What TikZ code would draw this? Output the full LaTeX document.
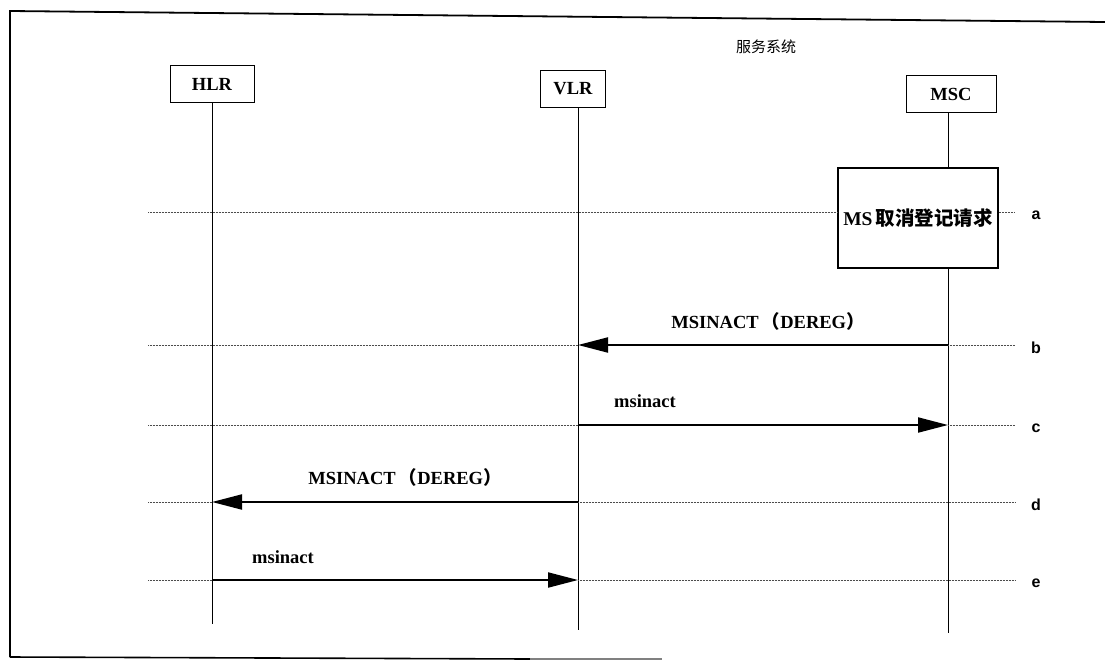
\documentclass[tikz,border=0pt]{standalone}
\usepackage{fontspec}
\setmainfont{Liberation Serif}
\newfontfamily\cjk{Noto Sans CJK SC}
\newfontfamily\lab{Liberation Sans}
\usetikzlibrary{arrows.meta}
\begin{document}
\begin{tikzpicture}[x=1pt,y=-1pt,
  ent/.style={draw,line width=1pt,minimum width=84pt,minimum height=37pt,inner sep=0pt,font=\fontsize{18.5}{18.5}\selectfont\bfseries},
  life/.style={line width=0.9pt},
  dots/.style={line width=0.6pt,dash pattern=on 1pt off 0.5pt,gray!60!black},
  msg/.style={line width=2pt,-{Triangle[length=30pt,width=15pt]}},
  msgtxt/.style={font=\fontsize{18.5}{18.5}\selectfont\bfseries,inner sep=0pt},
  rowlab/.style={font=\lab\fontsize{16}{16}\selectfont\bfseries,inner sep=0pt}]
\useasboundingbox (0,0) rectangle (1105,664);
% frame
\draw[line width=1.8pt] (1105,22) -- (10,11) -- (10,657);
\draw[line width=1.6pt] (10,657) -- (530,659);
\draw[line width=1.6pt,gray] (530,659) -- (662,659);
% title
\node[font=\cjk\fontsize{15}{15}\selectfont] (title) at (766,47) {服务系统};
% entities
\node[ent] (hlr) at (212,84) {HLR};
\node[ent,minimum width=65pt] (vlr) at (573,89) {VLR};
\node[ent,minimum width=90pt] (msc) at (951,94) {MSC};
\coordinate (hlrend) at (212,624);
\coordinate (vlrend) at (578,630);
\coordinate (mscend) at (948,633);
\draw[life] (hlr.south) -- (hlrend);
\draw[life] (vlr.south -| vlrend) -- (vlrend);
\node[draw,line width=1.6pt,minimum width=160pt,minimum height=100pt,inner sep=0pt,font=\fontsize{19.5}{19.5}\selectfont\bfseries] (req) at (918,218) {MS\,\cjk 取消登记请求};
\draw[life] (msc.south -| mscend) -- (req.north -| mscend);
\draw[life] (req.south -| mscend) -- (mscend);
% row coordinates
\foreach \n/\y in {a/212,b/345,c/425,d/502,e/580}{
  \coordinate (L\n) at (148,\y);
  \coordinate (R\n) at (1015,\y);
  \node[rowlab] (lab\n) at (1036,\y+3) {\n};
}
\draw[dots] (La) -- (La -| req.west);
\draw[dots] (La -| req.east) -- (Ra);
% b
\draw[dots] (Lb) -- (Lb -| vlrend);
\draw[dots] (Lb -| mscend) -- (Rb);
\draw[msg] (Lb -| mscend) -- (Lb -| vlrend);
\node[msgtxt] (mb) at (768,321) {MSINACT\,{\cjk（}DEREG{\cjk）}};
% c
\draw[dots] (Lc) -- (Lc -| vlrend);
\draw[dots] (Lc -| mscend) -- (Rc);
\draw[msg] (Lc -| vlrend) -- (Lc -| mscend);
\node[msgtxt] (mc) at (645,401) {msinact};
% d
\draw[dots] (Ld) -- (Ld -| hlrend);
\draw[dots] (Ld -| vlrend) -- (Rd);
\draw[msg] (Ld -| vlrend) -- (Ld -| hlrend);
\node[msgtxt] (md) at (405,477) {MSINACT\,{\cjk（}DEREG{\cjk）}};
% e
\draw[dots] (Le) -- (Le -| hlrend);
\draw[dots] (Le -| vlrend) -- (Re);
\draw[msg] (Le -| hlrend) -- (Le -| vlrend);
\node[msgtxt] (me) at (283,557) {msinact};
\end{tikzpicture}
\end{document}
